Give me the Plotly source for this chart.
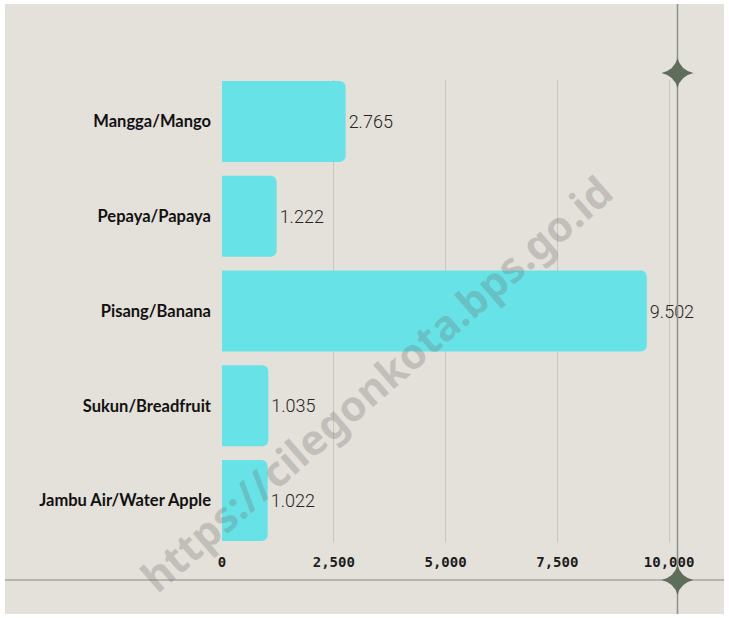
import plotly.graph_objects as go

# fruit production (reference labels use dot as thousand separator)
fruits = ["Mangga/Mango", "Pepaya/Papaya", "Pisang/Banana",
          "Sukun/Breadfruit", "Jambu Air/Water Apple"]
values = [2765, 1222, 9502, 1035, 1022]
value_labels = ["2.765", "1.222", "9.502", "1.035", "1.022"]
x_ticks = [0, 2500, 5000, 7500, 10000]
x_tick_text = ["0", "2,500", "5,000", "7,500", "10,000"]

W, H = 729, 618
ML, MR, MT, MB = 222, 42, 80, 76
PW, PH = W - ML - MR, H - MT - MB

BG = "#e4e0da"
BAR = "#67e3e8"


def px(x):
    return (x - ML) / PW


def py(y):
    return (H - MB - y) / PH


def star(cx, cy, w, h):
    # four-pointed star with concave sides, pixel centre -> paper path
    k = 3
    pts = [
        ("M", cx, cy - h),
        ("Q", cx + k, cy - k), ("", cx + w, cy),
        ("Q", cx + k, cy + k), ("", cx, cy + h),
        ("Q", cx - k, cy + k), ("", cx - w, cy),
        ("Q", cx - k, cy - k), ("", cx, cy - h),
    ]
    s = ""
    for cmd, x, y in pts:
        s += f"{cmd}{px(x):.5f},{py(y):.5f} "
    return s + "Z"


fig = go.Figure()
fig.add_trace(go.Bar(
    x=values, y=fruits, orientation="h",
    marker=dict(color=BAR, line=dict(width=0)),
    text=value_labels, textposition="outside",
    textfont=dict(family="Roboto", size=18, color="#262626", weight=300),
    constraintext="none", cliponaxis=False,
    hoverinfo="skip",
))

shapes = [
    # beige card with thin white border
    dict(type="rect", xref="paper", yref="paper", layer="below",
         x0=px(5), x1=px(724), y0=py(614), y1=py(4),
         fillcolor=BG, line=dict(width=0)),
    # decorative guide lines
    dict(type="line", xref="paper", yref="paper", layer="above",
         x0=px(5), x1=px(724), y0=py(580), y1=py(580),
         line=dict(color="#a9a6a0", width=1.5)),
    dict(type="line", xref="paper", yref="paper", layer="above",
         x0=px(677.5), x1=px(677.5), y0=py(4), y1=py(614),
         line=dict(color="#8c918a", width=1.5)),
]
for cy in (73, 580):
    shapes.append(dict(type="path", xref="paper", yref="paper", layer="above",
                       path=star(677.5, cy, 16, 15),
                       fillcolor="#5e6e5b", line=dict(width=0)))

fig.update_layout(
    width=W, height=H,
    margin=dict(l=ML, r=MR, t=MT, b=MB),
    paper_bgcolor="white",
    plot_bgcolor=BG,
    bargap=0.145,
    showlegend=False,
    shapes=shapes,
    xaxis=dict(
        range=[0, 10400], tickvals=x_ticks, ticktext=x_tick_text,
        showgrid=True, gridcolor="#c9c5bf", gridwidth=1,
        zeroline=False, showline=False, ticks="",
        ticklabelstandoff=10,
        tickfont=dict(family="DejaVu Sans Mono", size=14, color="#1c1c1c", weight="bold"),
    ),
    yaxis=dict(
        categoryorder="array", categoryarray=fruits,
        range=[4.438, -0.438],
        showgrid=False, zeroline=False, showline=False, ticks="",
        ticklabelstandoff=10,
        tickfont=dict(family="Lato", size=16.5, color="#111111", weight="bold"),
    ),
    annotations=[dict(
        text="https://cilegonkota.bps.go.id", xref="paper", yref="paper",
        x=px(375), y=py(383), xanchor="center", yanchor="middle",
        showarrow=False, textangle=-41,
        font=dict(family="Noto Sans", size=42, color="rgba(110,110,110,0.28)",
                  weight="bold"),
    )],
)
fig.update_traces(marker_cornerradius=6)

# page has a default 8px body margin; drop it so the figure sits at 0,0
fig.write_html("out.html", config={"displayModeBar": False},
               post_script="document.body.style.margin='0';document.body.style.overflow='hidden';")
